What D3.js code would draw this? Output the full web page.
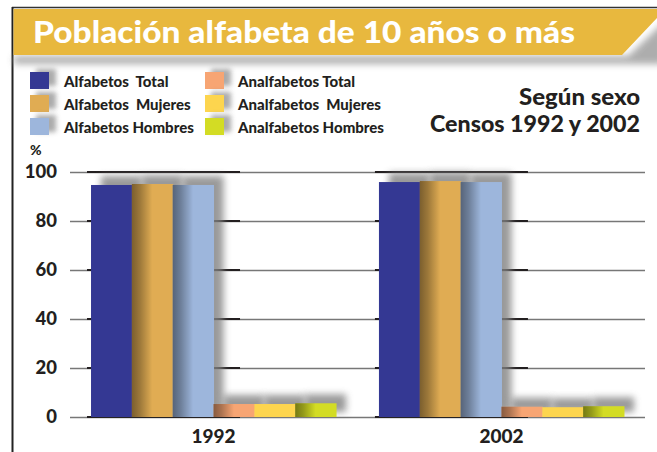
<!DOCTYPE html>
<html>
<head>
<meta charset="utf-8">
<script src="https://cdn.jsdelivr.net/npm/d3@7"></script>
<style>
  body { margin: 0; background: #fff; }
  svg { display: block; font-family: Lato, "Noto Sans", sans-serif; }
  .pre { white-space: pre; }
</style>
</head>
<body>
<div id="chart"></div>
<script>
// data
var categories = ["1992", "2002"];
var seriesNames = ["Alfabetos  Total", "Alfabetos  Mujeres", "Alfabetos Hombres",
                   "Analfabetos Total", "Analfabetos  Mujeres", "Analfabetos Hombres"];
var alfTotal = [94.7, 95.9];
var alfMujeres = [95.1, 96.3];
var alfHombres = [94.7, 95.9];
var analfTotal = [5.3, 4.2];
var analfMujeres = [5.3, 4.0];
var analfHombres = [5.6, 4.4];
var yTicks = [0, 20, 40, 60, 80, 100];

var seriesValues = [alfTotal, alfMujeres, alfHombres, analfTotal, analfMujeres, analfHombres];
var colors = ["#343893", "#E0AC53", "#9DB6DC", "#F7A573", "#FDD54E", "#D3DC24"];
var shaded = [false, true, true, true, false, true];

var W = 657, H = 452;
var svg = d3.select("#chart").append("svg")
    .attr("width", W)
    .attr("height", H);

var defs = svg.append("defs");
defs.append("filter").attr("id", "blur")
    .attr("x", "-50%").attr("y", "-50%").attr("width", "200%").attr("height", "200%")
    .append("feGaussianBlur").attr("stdDeviation", 3.5);
defs.append("filter").attr("id", "blurS")
    .attr("x", "-50%").attr("y", "-50%").attr("width", "200%").attr("height", "200%")
    .append("feGaussianBlur").attr("stdDeviation", 2.5);
var lg = defs.append("linearGradient").attr("id", "edge")
    .attr("x1", 0).attr("x2", 1).attr("y1", 0).attr("y2", 0);
lg.append("stop").attr("offset", "0%").attr("stop-color", "#000").attr("stop-opacity", 0.45);
lg.append("stop").attr("offset", "20%").attr("stop-color", "#000").attr("stop-opacity", 0.3);
lg.append("stop").attr("offset", "50%").attr("stop-color", "#000").attr("stop-opacity", 0);

// frame lines
svg.append("line").attr("x1", 12).attr("x2", W).attr("y1", 7.5).attr("y2", 7.5)
    .attr("stroke", "#333").attr("stroke-width", 1.5);
svg.append("line").attr("x1", 12.5).attr("x2", 12.5).attr("y1", 7).attr("y2", H)
    .attr("stroke", "#222").attr("stroke-width", 2);

// header band
svg.append("path")
    .attr("d", "M14,56 L628,56 L664,22 L664,64 L14,64 Z")
    .attr("fill", "#999").attr("opacity", 0.8).attr("filter", "url(#blur)");
svg.append("path")
    .attr("d", "M13.5,9 L657,9 L657,18 L622,55 L13.5,55 Z")
    .attr("fill", "#E8B83E");
svg.append("text")
    .attr("x", 33).attr("y", 43)
    .attr("font-size", 30).attr("font-weight", 900)
    .attr("fill", "#fff")
    .attr("textLength", 542).attr("lengthAdjust", "spacingAndGlyphs")
    .text("Población alfabeta de 10 años o más");

// subtitle
var sub = svg.append("g").attr("font-weight", 900).attr("font-size", 22)
    .attr("fill", "#231F20").attr("text-anchor", "end");
sub.append("text").attr("x", 640).attr("y", 105)
    .attr("textLength", 121).attr("lengthAdjust", "spacingAndGlyphs").text("Según sexo");
sub.append("text").attr("x", 640).attr("y", 132)
    .attr("textLength", 210).attr("lengthAdjust", "spacingAndGlyphs").text("Censos 1992 y 2002");

// legend
var legend = svg.append("g");
var legItems = legend.selectAll("g").data(seriesNames).join("g")
    .attr("transform", function(d, i) {
        return "translate(" + (i < 3 ? 30 : 205) + "," + (72 + (i % 3) * 23) + ")";
    });
legItems.append("rect").attr("x", 6).attr("y", -3).attr("width", 20).attr("height", 17)
    .attr("fill", "#888").attr("opacity", 0.7).attr("filter", "url(#blurS)");
legItems.append("rect").attr("width", 19).attr("height", 17)
    .attr("fill", function(d, i) { return colors[i]; });
legItems.append("text").attr("class", "pre")
    .attr("x", function(d, i) { return i < 3 ? 34 : 33; }).attr("y", 14.5)
    .attr("font-size", 15).attr("font-weight", 900).attr("fill", "#231F20")
    .text(function(d) { return d; });

// scales
var x0 = d3.scaleBand().domain(categories).range([70, 645])
    .paddingInner(0.149).paddingOuter(0.073);
var x1 = d3.scaleBand().domain(d3.range(seriesNames.length)).range([0, x0.bandwidth()]);
var y = d3.scaleLinear().domain([0, 100]).range([417, 172]);

svg.append("text").attr("x", 30).attr("y", 155)
    .attr("font-size", 14).attr("font-weight", 900).attr("fill", "#231F20").text("%");

// y axis with gridlines
var yAxis = svg.append("g").attr("transform", "translate(70,0)")
    .call(d3.axisLeft(y).tickValues(yTicks).tickSize(-(645 - 70)).tickPadding(13));
yAxis.select(".domain").remove();
yAxis.selectAll(".tick line").attr("stroke", "#777").attr("stroke-width", 1.6);
yAxis.selectAll(".tick text").attr("font-size", 18.5).attr("font-weight", 900)
    .attr("fill", "#231F20").attr("font-family", "Lato, sans-serif");

// darker grid segments across the alfabetos part of each group
categories.forEach(function(c) {
    svg.selectAll(null).data(yTicks).join("line")
        .attr("x1", x0(c) - 4).attr("x2", x0(c) + 149)
        .attr("y1", function(d) { return y(d); }).attr("y2", function(d) { return y(d); })
        .attr("stroke", "#231F20").attr("stroke-width", 1.8);
});

// bars
var groups = svg.selectAll(".grp").data(categories).join("g")
    .attr("class", "grp")
    .attr("transform", function(c) { return "translate(" + x0(c) + ",0)"; });

function barData(c, ci) {
    return seriesValues.map(function(vals, si) { return { s: si, v: vals[ci] }; });
}

groups.selectAll(".shadow").data(barData).join("rect")
    .attr("class", "shadow")
    .attr("x", function(d) { return x1(d.s) + 10; })
    .attr("y", function(d) { return y(d.v) - 9; })
    .attr("width", x1.bandwidth())
    .attr("height", function(d) { return y(0) - y(d.v) + 4; })
    .attr("fill", "#808080").attr("opacity", 0.8)
    .attr("filter", "url(#blur)");

groups.selectAll(".bar").data(barData).join("rect")
    .attr("class", "bar")
    .attr("x", function(d) { return x1(d.s); })
    .attr("y", function(d) { return y(d.v); })
    .attr("width", x1.bandwidth() + 0.5)
    .attr("height", function(d) { return y(0) - y(d.v); })
    .attr("fill", function(d) { return colors[d.s]; });

groups.selectAll(".edge").data(function(c, ci) {
        return barData(c, ci).filter(function(d) { return shaded[d.s]; });
    }).join("rect")
    .attr("class", "edge")
    .attr("x", function(d) { return x1(d.s); })
    .attr("y", function(d) { return y(d.v); })
    .attr("width", x1.bandwidth())
    .attr("height", function(d) { return y(0) - y(d.v); })
    .attr("fill", "url(#edge)");

// x axis
var xAxis = svg.append("g").attr("transform", "translate(0,417)")
    .call(d3.axisBottom(x0).tickSize(0).tickPadding(12.5));
xAxis.select(".domain").remove();
xAxis.selectAll(".tick text").attr("font-size", 19).attr("font-weight", 900)
    .attr("fill", "#231F20").attr("font-family", "Lato, sans-serif");
</script>
</body>
</html>
